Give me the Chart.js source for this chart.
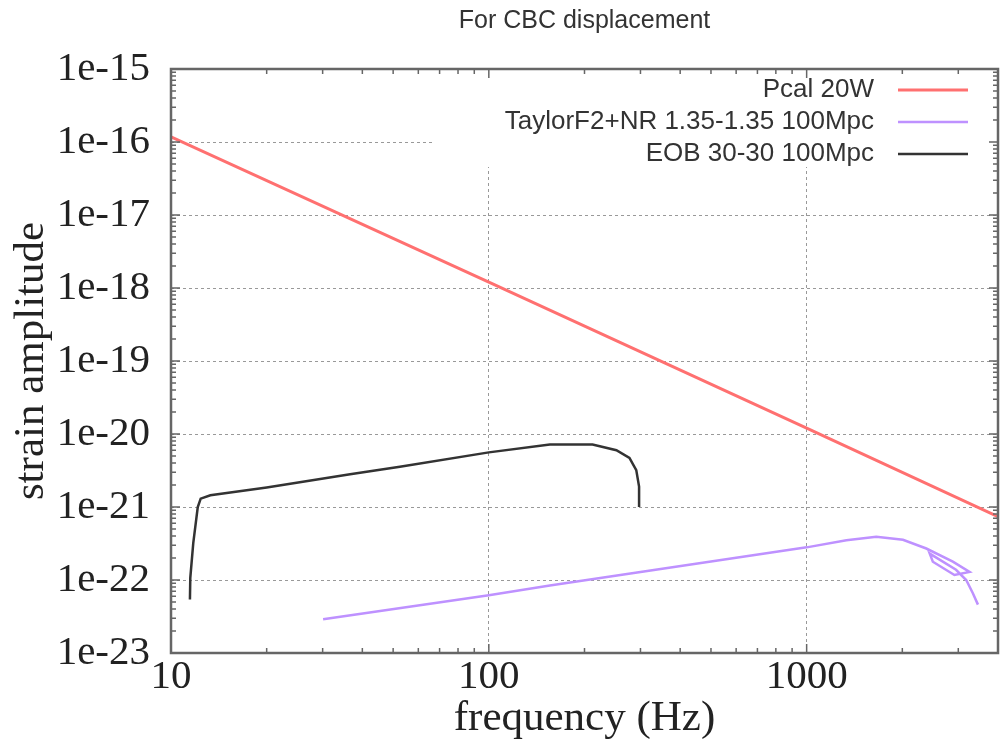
<!DOCTYPE html>
<html>
<head>
<meta charset="utf-8">
<script src="https://cdn.jsdelivr.net/npm/chart.js@4.4.1/dist/chart.umd.min.js"></script>
<style>
  html, body { margin: 0; padding: 0; background: #fff; }
  canvas { display: block; }
</style>
</head>
<body>
<canvas id="myChart" width="1001" height="751"></canvas>
<script>
// Axis ticks (log-log)
const freqTicks = [10, 100, 1000];
const strainTicks = [1e-23, 1e-22, 1e-21, 1e-20, 1e-19, 1e-18, 1e-17, 1e-16, 1e-15];

// Pcal 20W
const pcalFreq = [10, 100, 1000, 4000];
const pcalAmp = [1.18e-16, 1.2e-18, 1.2e-20, 7.4e-22];

// TaylorF2+NR 1.35-1.35 100Mpc
const tf2Freq = [30.1, 100, 155.6, 1000, 1334, 1656, 2009, 2379, 2884, 3255, 2917, 2495, 2439, 2951, 3177, 3334, 3459];
const tf2Amp = [2.9e-23, 6.2e-23, 8.4e-23, 2.8e-22, 3.5e-22, 3.9e-22, 3.55e-22, 2.7e-22, 1.78e-22, 1.29e-22, 1.17e-22, 1.78e-22, 2.3e-22, 1.38e-22, 1.0e-22, 6.6e-23, 4.6e-23];

// EOB 30-30 100Mpc
const eobFreq = [11.47, 11.5, 11.75, 12.14, 12.4, 13.3, 20, 36.6, 52.5, 100, 155.6, 212, 252, 277, 291, 297, 297];
const eobAmp = [5.4e-23, 1.07e-22, 3.2e-22, 1.0e-21, 1.3e-21, 1.45e-21, 1.85e-21, 2.8e-21, 3.55e-21, 5.6e-21, 7.2e-21, 7.2e-21, 6.0e-21, 4.7e-21, 3.2e-21, 1.9e-21, 1.0e-21];

const toPoints = (xs, ys) => xs.map((x, i) => ({ x: x, y: ys[i] }));

const serif = 'Liberation Serif';
const sans = 'Liberation Sans';

// gnuplot style frame, inside tick marks and key box
const framePlugin = {
    id: 'frame',
    beforeDatasetsDraw(chart) {
        const { ctx, chartArea: a } = chart;
        ctx.save();
        // opaque key area
        ctx.fillStyle = '#fff';
        ctx.fillRect(432, a.top + 1, a.right - 433, 97);
        ctx.font = '26px ' + sans;
        ctx.textAlign = 'right';
        ctx.textBaseline = 'middle';
        chart.data.datasets.forEach((ds, i) => {
            const yy = 90 + i * 32;
            ctx.fillStyle = '#333';
            ctx.fillText(ds.label, 874, yy);
            ctx.strokeStyle = ds.borderColor;
            ctx.lineWidth = ds.borderWidth;
            ctx.beginPath();
            ctx.moveTo(898, yy);
            ctx.lineTo(968, yy);
            ctx.stroke();
        });
        ctx.restore();
    },
    afterDatasetsDraw(chart) {
        const { ctx, chartArea: a, scales: { x, y } } = chart;
        ctx.save();
        ctx.strokeStyle = '#666';
        ctx.lineWidth = 1.5;
        ctx.beginPath();
        for (let d = 1; d <= 3; d++) {
            for (let m = 1; m <= 9; m++) {
                const v = m * Math.pow(10, d);
                if (v < x.min || v > x.max) continue;
                const px = x.getPixelForValue(v);
                const len = m === 1 ? 9 : 5;
                ctx.moveTo(px, a.bottom); ctx.lineTo(px, a.bottom - len);
                ctx.moveTo(px, a.top); ctx.lineTo(px, a.top + len);
            }
        }
        for (let d = -23; d <= -15; d++) {
            for (let m = 1; m <= 9; m++) {
                const v = m * Math.pow(10, d);
                if (v < y.min * 0.999 || v > y.max * 1.001) continue;
                const py = y.getPixelForValue(v);
                const len = m === 1 ? 9 : 5;
                ctx.moveTo(a.left, py); ctx.lineTo(a.left + len, py);
                ctx.moveTo(a.right, py); ctx.lineTo(a.right - len, py);
            }
        }
        ctx.stroke();
        ctx.lineWidth = 2.5;
        ctx.strokeRect(a.left, a.top, a.right - a.left, a.bottom - a.top);
        ctx.restore();
    }
};

const ctx = document.getElementById('myChart').getContext('2d');

new Chart(ctx, {
    type: 'scatter',
    data: {
        datasets: [
            {
                label: 'Pcal 20W',
                data: toPoints(pcalFreq, pcalAmp),
                borderColor: 'rgb(255, 112, 112)',
                borderWidth: 3,
                showLine: true,
                pointRadius: 0
            },
            {
                label: 'TaylorF2+NR 1.35-1.35 100Mpc',
                data: toPoints(tf2Freq, tf2Amp),
                borderColor: 'rgb(190, 145, 255)',
                borderWidth: 2.5,
                showLine: true,
                pointRadius: 0
            },
            {
                label: 'EOB 30-30 100Mpc',
                data: toPoints(eobFreq, eobAmp),
                borderColor: '#333',
                borderWidth: 2.5,
                showLine: true,
                pointRadius: 0
            }
        ]
    },
    options: {
        responsive: false,
        animation: false,
        layout: { padding: { left: 0, right: 3, top: 0, bottom: 0 } },
        plugins: {
            legend: { display: false },
            tooltip: { enabled: false },
            title: {
                display: true,
                text: 'For CBC displacement',
                fullSize: false,
                color: '#333',
                font: { family: sans, size: 25, weight: 'normal' },
                padding: { top: 6, bottom: 33 }
            }
        },
        scales: {
            x: {
                type: 'logarithmic',
                min: 10,
                max: 4000,
                afterBuildTicks: s => { s.ticks = freqTicks.map(v => ({ value: v })); },
                afterFit: s => { s.height = 98; },
                ticks: {
                    callback: v => String(v),
                    autoSkip: false,
                    maxRotation: 0,
                    padding: 0,
                    color: '#222',
                    font: { family: serif, size: 41 }
                },
                grid: { color: '#999', lineWidth: 1, drawTicks: false },
                border: { display: false, dash: [3, 3] },
                title: {
                    display: true,
                    text: 'frequency (Hz)',
                    color: '#222',
                    font: { family: serif, size: 43 },
                    padding: { top: 0, bottom: 6 }
                }
            },
            y: {
                type: 'logarithmic',
                min: 1e-23,
                max: 1e-15,
                afterBuildTicks: s => { s.ticks = strainTicks.map(v => ({ value: v })); },
                afterFit: s => { s.width = 171; },
                ticks: {
                    callback: v => '1e' + Math.round(Math.log10(v)),
                    autoSkip: false,
                    padding: 21,
                    color: '#222',
                    font: { family: serif, size: 41 }
                },
                grid: { color: '#999', lineWidth: 1, drawTicks: false },
                border: { display: false, dash: [3, 3] },
                title: {
                    display: true,
                    text: 'strain amplitude',
                    color: '#222',
                    font: { family: serif, size: 43 },
                    padding: { top: 6, bottom: 0 }
                }
            }
        }
    },
    plugins: [framePlugin]
});
</script>
</body>
</html>
